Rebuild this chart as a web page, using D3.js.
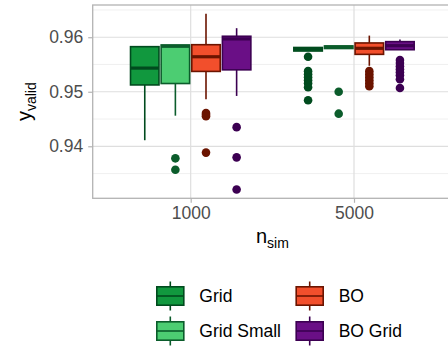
<!DOCTYPE html>
<html>
<head>
<meta charset="utf-8">
<script src="https://cdn.jsdelivr.net/npm/d3@7"></script>
<style>
  body { margin: 0; background: #fff; }
  svg { display: block; font-family: "Liberation Sans", Arial, sans-serif; }
</style>
</head>
<body>
<svg id="chart" width="448" height="350"></svg>
<script>
// data
const sizes = ["1000", "5000"];
const methods = ["Grid", "Grid Small", "BO", "BO Grid"];
const fills = ["#11983e", "#4ccd72", "#f24f2c", "#6a0f86"];
const strokes = ["#004b1e", "#0b5c2b", "#6b1400", "#3c0052"];

// [n, method, lower whisker, q1, median, q3, upper whisker]
const boxStats = [
  ["1000", "Grid",       0.94111, 0.95125, 0.95434, 0.95827, 0.95827],
  ["1000", "Grid Small", 0.94561, 0.95151, 0.95834, 0.95858, 0.95858],
  ["1000", "BO",         0.94862, 0.95373, 0.95642, 0.95863, 0.96430],
  ["1000", "BO Grid",    0.94923, 0.95402, 0.95969, 0.96018, 0.96166],
  ["5000", "Grid",       0.95747, 0.95747, 0.95784, 0.95812, 0.95812],
  ["5000", "Grid Small", 0.95793, 0.95793, 0.95820, 0.95840, 0.95840],
  ["5000", "BO",         0.95476, 0.95686, 0.95797, 0.95895, 0.96030],
  ["5000", "BO Grid",    0.95766, 0.95771, 0.95845, 0.95919, 0.95959]
];

const outliers = [
  ["1000", "Grid Small", [0.93779, 0.9357]],
  ["1000", "BO",         [0.9461, 0.9458, 0.9455, 0.93884]],
  ["1000", "BO Grid",    [0.94351, 0.93797, 0.93207]],
  ["5000", "Grid",       [0.95642, 0.95378, 0.95322, 0.95267, 0.95211, 0.95156, 0.95082, 0.94843]],
  ["5000", "Grid Small", [0.95, 0.94598]],
  ["5000", "BO",         [0.95378, 0.95322, 0.95267, 0.95211, 0.95157, 0.95101]],
  ["5000", "BO Grid",    [0.95581, 0.95526, 0.9547, 0.95415, 0.9536, 0.95304, 0.9523, 0.9507]]
];

const yTicks = [0.94, 0.95, 0.96];
const yMinor = [0.935, 0.945, 0.955, 0.965];

const svg = d3.select("#chart");
const panel = { left: 92.7, right: 452, top: 5, bottom: 198.3 };

// y range: data extent with 5% expansion
const allVals = boxStats.flatMap(d => d.slice(2)).concat(outliers.flatMap(d => d[2]));
const [lo, hi] = d3.extent(allVals);
const pad = (hi - lo) * 0.05;
const y = d3.scaleLinear([lo - pad, hi + pad], [panel.bottom, panel.top]);

const x = d3.scalePoint(sizes, [panel.left, panel.right]).padding(0.6);
const dodge = d3.scaleBand(methods, [-0.375 * x.step(), 0.375 * x.step()]);
const boxW = dodge.bandwidth() * 0.93;
const col = d3.scaleOrdinal(methods, fills);
const dark = d3.scaleOrdinal(methods, strokes);

const cx = (n, m) => x(n) + dodge(m) + dodge.bandwidth() / 2;

// grid
const grid = svg.append("g");
grid.selectAll(".minor").data(yMinor).join("line")
  .attr("x1", panel.left).attr("x2", panel.right)
  .attr("y1", d => y(d)).attr("y2", d => y(d))
  .attr("stroke", "#ececec").attr("stroke-width", 0.8);
grid.selectAll(".major").data(yTicks).join("line")
  .attr("x1", panel.left).attr("x2", panel.right)
  .attr("y1", d => y(d)).attr("y2", d => y(d))
  .attr("stroke", "#dedede").attr("stroke-width", 1.2);
grid.selectAll(".vmajor").data(sizes).join("line")
  .attr("x1", d => x(d)).attr("x2", d => x(d))
  .attr("y1", panel.top).attr("y2", panel.bottom)
  .attr("stroke", "#dedede").attr("stroke-width", 1.2);

// boxes
const boxes = svg.append("g").selectAll("g").data(boxStats).join("g");
boxes.append("line")
  .attr("x1", d => cx(d[0], d[1])).attr("x2", d => cx(d[0], d[1]))
  .attr("y1", d => y(d[2])).attr("y2", d => y(d[3]))
  .attr("stroke", d => dark(d[1])).attr("stroke-width", 1.6);
boxes.append("line")
  .attr("x1", d => cx(d[0], d[1])).attr("x2", d => cx(d[0], d[1]))
  .attr("y1", d => y(d[5])).attr("y2", d => y(d[6]))
  .attr("stroke", d => dark(d[1])).attr("stroke-width", 1.6);
boxes.append("rect")
  .attr("x", d => cx(d[0], d[1]) - boxW / 2)
  .attr("width", boxW)
  .attr("y", d => y(d[5]))
  .attr("height", d => Math.max(y(d[3]) - y(d[5]), 0.5))
  .attr("fill", d => col(d[1]))
  .attr("stroke", d => dark(d[1])).attr("stroke-width", 1.6);
boxes.append("line")
  .attr("x1", d => cx(d[0], d[1]) - boxW / 2).attr("x2", d => cx(d[0], d[1]) + boxW / 2)
  .attr("y1", d => y(d[4])).attr("y2", d => y(d[4]))
  .attr("stroke", d => dark(d[1])).attr("stroke-width", 3.2);

// outliers
const pts = outliers.flatMap(([n, m, vs]) => vs.map(v => ({ n, m, v })));
svg.append("g").selectAll("circle").data(pts).join("circle")
  .attr("cx", d => cx(d.n, d.m))
  .attr("cy", d => y(d.v))
  .attr("r", 4.3)
  .attr("fill", d => dark(d.m));

// panel border
svg.append("rect")
  .attr("x", panel.left).attr("y", panel.top)
  .attr("width", panel.right - panel.left).attr("height", panel.bottom - panel.top)
  .attr("fill", "none").attr("stroke", "#b3b3b3").attr("stroke-width", 1.3);

// axes
const yAxis = svg.append("g")
  .attr("transform", `translate(${panel.left},0)`)
  .call(d3.axisLeft(y).tickValues(yTicks).tickFormat(d3.format(".2f")).tickSize(4.5).tickPadding(5));
const xAxis = svg.append("g")
  .attr("transform", `translate(0,${panel.bottom})`)
  .call(d3.axisBottom(x).tickSize(4.5).tickPadding(4));
[yAxis, xAxis].forEach(a => {
  a.select(".domain").remove();
  a.selectAll(".tick line").attr("stroke", "#b3b3b3").attr("stroke-width", 1.2);
  a.selectAll(".tick text").attr("fill", "#4d4d4d").style("font-size", "17.5px")
    .style("font-family", "Liberation Sans, Arial, sans-serif");
});

// axis titles
const xt = svg.append("text")
  .attr("x", (panel.left + panel.right) / 2)
  .attr("y", 243)
  .attr("text-anchor", "middle")
  .style("font-size", "20px");
xt.append("tspan").text("n");
xt.append("tspan").attr("dy", 5).style("font-size", "14px").text("sim");

const yt = svg.append("text")
  .attr("transform", `translate(31,${(panel.top + panel.bottom) / 2}) rotate(-90)`)
  .attr("text-anchor", "middle")
  .style("font-size", "20px");
yt.append("tspan").text("y");
yt.append("tspan").attr("dy", 5).style("font-size", "14px").text("valid");

// legend
const legCols = [170.3, 309.7];
const legRows = [296, 331];
const leg = svg.append("g").selectAll("g").data(methods).join("g")
  .attr("transform", (d, i) => `translate(${legCols[Math.floor(i / 2)]},${legRows[i % 2]})`);
leg.append("line")
  .attr("y1", -14.5).attr("y2", 14.5)
  .attr("stroke", d => dark(d)).attr("stroke-width", 1.6);
leg.append("rect")
  .attr("x", -13.5).attr("y", -9.2).attr("width", 27).attr("height", 18.4)
  .attr("fill", d => col(d)).attr("stroke", d => dark(d)).attr("stroke-width", 1.6);
leg.append("line")
  .attr("x1", -13.5).attr("x2", 13.5)
  .attr("stroke", d => dark(d)).attr("stroke-width", 1.6);
leg.append("text")
  .attr("x", 29).attr("dy", "0.35em")
  .style("font-size", "17.5px")
  .text(d => d);
</script>
</body>
</html>
